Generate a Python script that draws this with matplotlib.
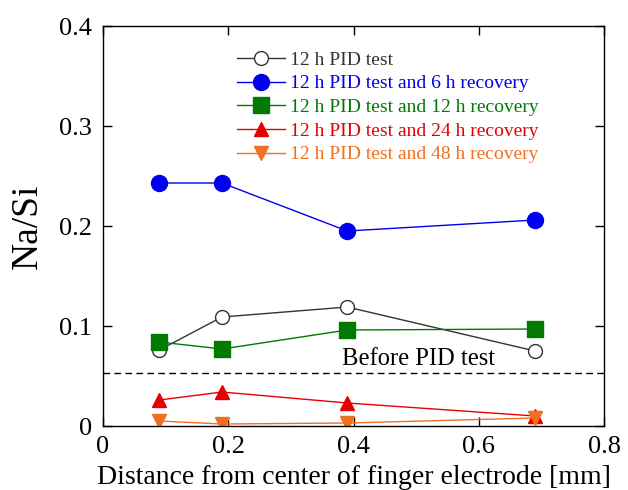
import matplotlib.pyplot as plt

plt.rcParams['font.family'] = ['Liberation Serif', 'DejaVu Serif']

# Data
distance = [0.09, 0.19, 0.39, 0.69]
pid_12h = [0.076, 0.109, 0.119, 0.075]
rec_6h = [0.243, 0.243, 0.195, 0.206]
rec_12h = [0.084, 0.077, 0.096, 0.097]
rec_24h = [0.026, 0.034, 0.023, 0.010]
rec_48h = [0.005, 0.002, 0.003, 0.008]
before_pid = 0.053

labels = ['12 h PID test',
          '12 h PID test and 6 h recovery',
          '12 h PID test and 12 h recovery',
          '12 h PID test and 24 h recovery',
          '12 h PID test and 48 h recovery']

fig = plt.figure(figsize=(6.28, 4.90), dpi=100)
ax = fig.add_axes([0.164, 0.1306, 0.7978, 0.8163])

ax.plot(distance, pid_12h, color='#333333', lw=1, marker='o', ms=10,
        mfc='white', mec='#333333', mew=1, label=labels[0])
ax.plot(distance, rec_6h, color='#0000ee', lw=1, marker='o', ms=11.5,
        label=labels[1])
ax.plot(distance, rec_12h, color='#007a00', lw=1, marker='s', ms=12,
        label=labels[2])
ax.plot(distance, rec_24h, color='#e60000', lw=1, marker='^', ms=10.5,
        label=labels[3])
ax.plot(distance, rec_48h, color='#f07020', lw=1, marker='v', ms=10.5,
        label=labels[4])

ax.axhline(before_pid, color='black', lw=1, ls=(0, (4.8, 3.1)))
ax.text(0.504, 0.061, 'Before PID test', fontsize=17.7,
        ha='center', va='baseline')

ax.set_xlim(0, 0.8)
ax.set_ylim(0, 0.4)
ax.set_xticks([0, 0.2, 0.4, 0.6, 0.8])
ax.set_xticklabels(['0', '0.2', '0.4', '0.6', '0.8'])
ax.set_yticks([0, 0.1, 0.2, 0.3, 0.4])
ax.set_yticklabels(['0', '0.1', '0.2', '0.3', '0.4'])
ax.tick_params(direction='in', top=True, right=True, length=6.5, width=1,
               labelsize=19)
ax.tick_params(axis='x', pad=7)
ax.tick_params(axis='y', pad=8)
for s in ax.spines.values():
    s.set_linewidth(1)

ax.set_xlabel('Distance from center of finger electrode [mm]', fontsize=20)
ax.xaxis.set_label_coords(0.5, -0.0985)
ax.set_ylabel('Na/Si', fontsize=27)
ax.yaxis.set_label_coords(-0.116, 0.5)

leg = ax.legend(loc='upper left', bbox_to_anchor=(0.267, 0.937), frameon=False,
                fontsize=14, handlelength=2.47, handletextpad=0.26,
                labelspacing=0.31, borderpad=0, borderaxespad=0)
for txt, line in zip(leg.get_texts(), leg.get_lines()):
    txt.set_color(line.get_color())

plt.savefig('out.png')
